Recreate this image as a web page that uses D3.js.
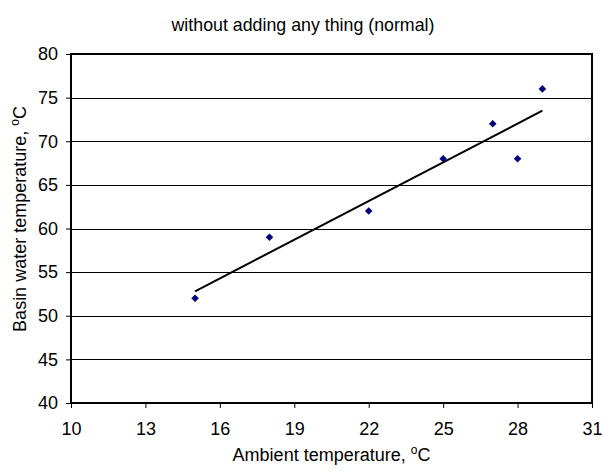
<!DOCTYPE html>
<html><head><meta charset="utf-8">
<script src="https://cdn.jsdelivr.net/npm/d3@7"></script>
<style>body{margin:0;background:#fff}text{font-family:"Liberation Sans",Arial,sans-serif;fill:#000}</style>
</head><body><svg id="c" width="602" height="472"></svg>
<script>
const ambientTemp = [15, 18, 22, 25, 27, 28, 29];
const basinTemp = [52, 59, 62, 68, 72, 68, 76];
const trendX = [15, 29];
const trendY = [52.8, 73.5];
const xTicks = [10, 13, 16, 19, 22, 25, 28, 31];
const yTicks = [40, 45, 50, 55, 60, 65, 70, 75, 80];

const svg = d3.select("#c");
const L = 71, R = 592, T = 54, B = 403;
const x = d3.scaleLinear().domain([10, 31]).range([L, R]);
const y = d3.scaleLinear().domain([40, 80]).range([B, T]);

// gridlines
svg.append("g").selectAll("line").data(yTicks.slice(1, -1)).join("line")
  .attr("x1", L).attr("x2", R).attr("y1", d => Math.round(y(d)) + 0.5).attr("y2", d => Math.round(y(d)) + 0.5)
  .attr("stroke", "#000").attr("stroke-width", 1);

// frame
svg.append("rect").attr("x", L).attr("y", T).attr("width", R - L).attr("height", B - T)
  .attr("fill", "none").attr("stroke", "#000").attr("stroke-width", 2);

// axes
const xa = svg.append("g").attr("transform", `translate(0,${B})`)
  .call(d3.axisBottom(x).tickValues(xTicks).tickSize(5).tickPadding(14).tickFormat(d3.format("d")));
const ya = svg.append("g").attr("transform", `translate(${L},0)`)
  .call(d3.axisLeft(y).tickValues(yTicks).tickSize(5).tickPadding(8).tickFormat(d3.format("d")));
[xa, ya].forEach(a => {
  a.select(".domain").remove();
  a.selectAll("line").attr("stroke", "#000");
  a.selectAll("text").attr("font-size", 18).attr("font-family", "Liberation Sans, Arial, sans-serif").attr("fill", "#000");
});

// trend line
svg.append("path").datum(trendX.map((d, i) => [d, trendY[i]]))
  .attr("d", d3.line().x(d => x(d[0])).y(d => y(d[1])))
  .attr("stroke", "#000").attr("stroke-width", 2).attr("fill", "none");

// points
svg.append("g").selectAll("path").data(ambientTemp.map((d, i) => [d, basinTemp[i]])).join("path")
  .attr("d", "M0,-3.8L3.8,0L0,3.8L-3.8,0Z")
  .attr("transform", d => `translate(${x(d[0])},${y(d[1])})`)
  .attr("fill", "#000080");

// title
svg.append("text").attr("x", 303).attr("y", 31).attr("text-anchor", "middle").attr("font-size", 17.8)
  .text("without adding any thing (normal)");

// x title
const xt = svg.append("text").attr("x", 331.5).attr("y", 461).attr("text-anchor", "middle").attr("font-size", 18);
xt.append("tspan").text("Ambient temperature, ");
xt.append("tspan").attr("dy", -7).attr("font-size", 12).text("o");
xt.append("tspan").attr("dy", 7).text("C");

// y title
const yt = svg.append("text").attr("transform", "translate(25.5,219) rotate(-90)").attr("text-anchor", "middle").attr("font-size", 18);
yt.append("tspan").text("Basin water temperature, ");
yt.append("tspan").attr("dy", -7).attr("font-size", 12).text("o");
yt.append("tspan").attr("dy", 7).text("C");
</script></body></html>
